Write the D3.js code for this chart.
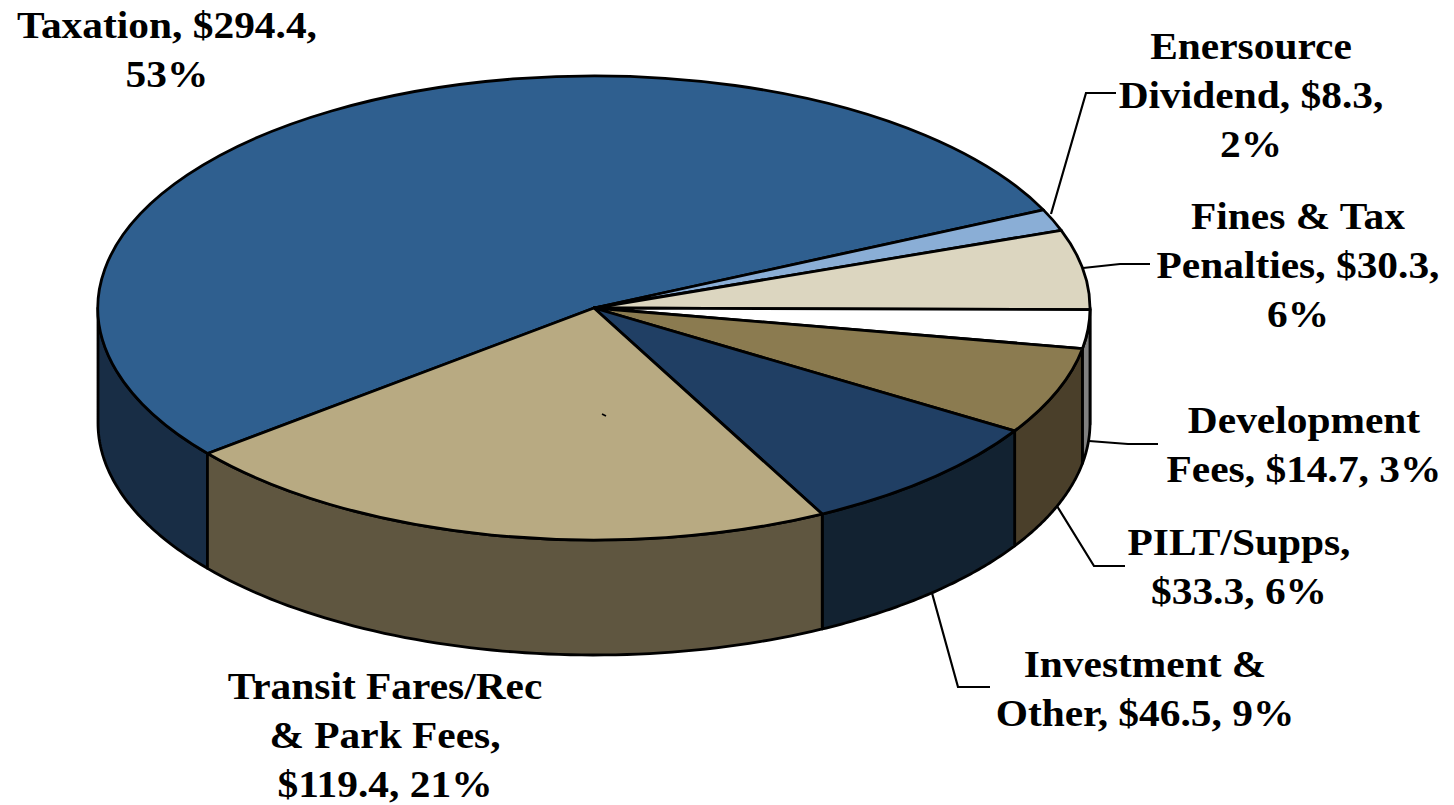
<!DOCTYPE html>
<html><head><meta charset="utf-8">
<script src="https://cdn.jsdelivr.net/npm/d3@7/dist/d3.min.js"></script>
<style>html,body{margin:0;padding:0;background:#fff;overflow:hidden}
text{font-family:"Liberation Serif",serif;font-weight:bold;fill:#000;font-size:38px;text-anchor:middle}</style>
</head><body><svg id="c" width="1454" height="805"></svg>
<script>
(function(){
const categories = ["Taxation","Enersource Dividend","Fines & Tax Penalties","Development Fees","PILT/Supps","Investment & Other","Transit Fares/Rec & Park Fees"];
const values = [294.4,8.3,30.3,14.7,33.3,46.5,119.4];
const topColors = ["#2f5f8f","#8aaed6","#dcd6c0","#ffffff","#8b7b50","#203f64","#b8aa82"];
const sideColors = ["#182d45","#456b8c","#6e6b60","#808080","#4a3f2a","#122231","#5f5640"];
const labelLines = [
  ["Taxation, $294.4,","53%"],
  ["Enersource","Dividend, $8.3,","2%"],
  ["Fines & Tax","Penalties, $30.3,","6%"],
  ["Development","Fees, $14.7, 3%"],
  ["PILT/Supps,","$33.3, 6%"],
  ["Investment &","Other, $46.5, 9%"],
  ["Transit Fares/Rec","& Park Fees,","$119.4, 21%"]
];
// layout (not data)
const labelAnchor = [[167,38],[1251,59],[1298,229],[1304,433],[1239,555],[1145,677],[385,698.5]];
const leaders = [null,
  [[1051,214],[1086,93],[1116,93]],
  [[1083,268],[1120,264],[1150,264]],
  [[1089,441],[1128,444],[1158,444]],
  [[1057,506],[1094,566],[1125,566]],
  [[932,593],[958,687],[990,687]],
  null];
const cx=594, cy=308, rx=496, ry=232, depth=115, lineH=49.2, textStretch=1.09;
const startDeg=231.2;

const svg=d3.select("#c");
const pie=d3.pie().sort(null).startAngle(startDeg*Math.PI/180).endAngle((startDeg+360)*Math.PI/180);
const slices=pie(values);
const sx=d3.scaleLinear().domain([-1,1]).range([cx-rx,cx+rx]);
const sy=d3.scaleLinear().domain([-1,1]).range([cy-ry,cy+ry]);
const pt=a=>[sx(Math.sin(a)),sy(-Math.cos(a))];
const line=d3.line();
const stroke="#000";

function wallRanges(a0,a1){
  const out=[];
  for(const k of [-1,0,1]){
    const lo=Math.max(a0,Math.PI/2+k*2*Math.PI), hi=Math.min(a1,1.5*Math.PI+k*2*Math.PI);
    if(hi>lo) out.push([lo,hi]);
  }
  return out;
}
const walls=svg.append("g");
slices.forEach((s,i)=>{
  wallRanges(s.startAngle,s.endAngle).forEach(([lo,hi])=>{
    const as=d3.range(0,61).map(t=>lo+(hi-lo)*t/60);
    const upper=as.map(pt);
    const lower=as.slice().reverse().map(a=>{const p=pt(a);return [p[0],p[1]+depth];});
    walls.append("path").attr("d",line(upper.concat(lower))+"Z")
      .attr("fill",sideColors[i]).attr("stroke",stroke).attr("stroke-width",2.8).attr("stroke-linejoin","round");
  });
});
const arc=d3.arc().innerRadius(0).outerRadius(1);
const topFace=svg.append("g").attr("transform",`translate(${cx},${cy}) scale(${rx},${ry})`);
topFace.selectAll("path").data(slices).join("path")
  .attr("d",arc)
  .attr("fill",(d,i)=>topColors[i])
  .attr("stroke",stroke).attr("stroke-width",2.8)
  .attr("vector-effect","non-scaling-stroke").attr("stroke-linejoin","round");
svg.append("path").attr("d",line([[602,414],[606,416]])).attr("stroke","#000").attr("stroke-width",1.6);
svg.append("g").selectAll("path").data(leaders.filter(Boolean)).join("path")
  .attr("d",d=>line(d)).attr("fill","none").attr("stroke","#000").attr("stroke-width",2.2);
labelLines.forEach((ls,i)=>{
  const t=svg.append("text").attr("transform",`translate(${labelAnchor[i][0]},${labelAnchor[i][1]}) scale(${textStretch},1)`);
  ls.forEach((l,j)=>t.append("tspan").attr("x",0).attr("y",j*lineH).text(l));
});
})();
</script></body></html>
